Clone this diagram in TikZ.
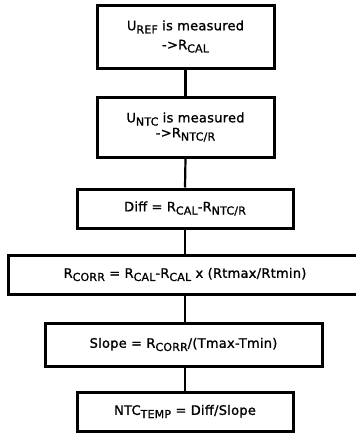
\documentclass[tikz,border=0pt]{standalone}
\usepackage{fontspec}
\setmainfont{DejaVu Sans}[LetterSpace=2,FakeBold=1.2]
\newcommand\lowsub[1]{\raisebox{-0.45ex}{\fontsize{11}{11}\selectfont #1}}
\begin{document}
\begin{tikzpicture}[x=1pt,y=-1pt,
  box/.style={draw, line width=3pt, inner sep=0pt, align=center,
    font=\fontsize{13}{15}\selectfont},
  link/.style={line width=2.2pt}]
\useasboundingbox (0,0) rectangle (356,434);
\clip (0,0) rectangle (356,434);
\node[box, minimum width=177pt, minimum height=63pt] (b1) at (185.5,36.5)
  {U\lowsub{REF} is measured\\[4pt] ->R\lowsub{CAL}};
\node[box, minimum width=177pt, minimum height=60pt] (b2) at (185.5,127)
  {U\lowsub{NTC} is measured\\[0pt] ->R\lowsub{NTC/R}};
\node[box, minimum width=216pt, minimum height=39pt] (b3) at (185,208.5)
  {Diff = R\lowsub{CAL}-R\lowsub{NTC/R}};
\node[box, minimum width=354pt, minimum height=39pt] (b4) at (185,274.5)
  {R\lowsub{CORR} = R\lowsub{CAL}-R\lowsub{CAL} x (Rtmax/Rtmin)};
\node[box, minimum width=277pt, minimum height=43pt] (b5) at (183.5,344.5)
  {Slope = R\lowsub{CORR}/(Tmax-Tmin)};
\node[box, minimum width=216pt, minimum height=39pt] (b6) at (185,411.5)
  {NTC\lowsub{TEMP} = Diff/Slope};
\draw[link] (b1.south) -- (b2.north);
\draw[link] (b2.south) -- (b3.north);
\draw[link] (b3.south) -- (b4.north);
\draw[link] (b4.south) -- ([xshift=1.5pt]b5.north);
\draw[link] ([xshift=1.5pt]b5.south) -- (b6.north);
\end{tikzpicture}
\end{document}
